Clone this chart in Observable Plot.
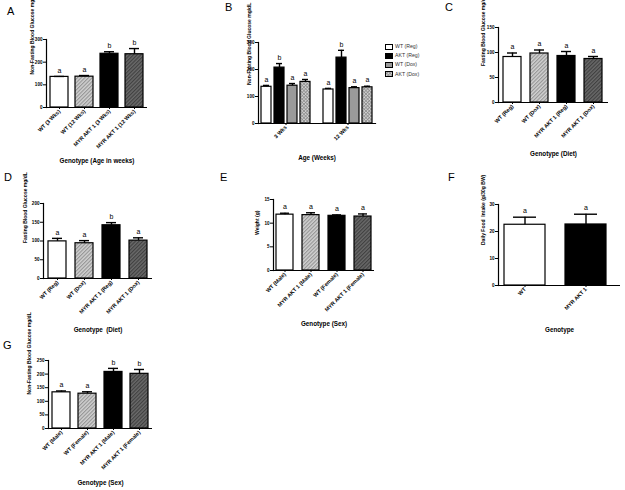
<!DOCTYPE html>
<html><head><meta charset="utf-8">
<script src="https://cdn.jsdelivr.net/npm/d3@7"></script>
<script src="https://cdn.jsdelivr.net/npm/@observablehq/plot@0.6"></script>
<style>
body{margin:0;background:#fff;}
#root{position:relative;width:625px;height:490px;overflow:hidden;font-family:"Liberation Sans",Arial,sans-serif;background:#fff;}
.letter{position:absolute;font-size:11px;line-height:11px;color:#000;}
.legend{position:absolute;font-size:5.2px;line-height:9.2px;color:#333;}
.legend div{display:flex;align-items:center;height:9.2px;}
.legend svg{margin-right:2px;}
</style></head><body>
<svg width="0" height="0" style="position:absolute">
<defs>
<pattern id="hLight" patternUnits="userSpaceOnUse" width="2.6" height="2.6" patternTransform="rotate(45)">
<rect width="2.6" height="2.6" fill="#d2d2d2"/><line x1="0.6" y1="0" x2="0.6" y2="2.6" stroke="#8c8c8c" stroke-width="1"/></pattern>
<pattern id="hDark" patternUnits="userSpaceOnUse" width="2.6" height="2.6" patternTransform="rotate(45)">
<rect width="2.6" height="2.6" fill="#6a6a6a"/><line x1="0.6" y1="0" x2="0.6" y2="2.6" stroke="#3a3a3a" stroke-width="1"/></pattern>
<pattern id="hCross" patternUnits="userSpaceOnUse" width="2.4" height="2.4" patternTransform="rotate(45)">
<rect width="2.4" height="2.4" fill="#d8d8d8"/><line x1="0.5" y1="0" x2="0.5" y2="2.4" stroke="#8a8a8a" stroke-width="0.8"/><line x1="0" y1="0.5" x2="2.4" y2="0.5" stroke="#8a8a8a" stroke-width="0.8"/></pattern>
</defs></svg>
<div id="root"></div>
<script>
// ---------- data ----------
const aCats = ["WT (3 Wks)", "WT (12 Wks)", "MYR AKT 1 (3 Wks)", "MYR AKT 1 (12 Wks)"];
const aMeans = [135, 136, 237, 235];
const aErrs = [2, 5, 9, 25];
const aLetters = ["a", "a", "b", "b"];

const bAges = ["3 Wks", "12 Wks"];
const bGroups = ["WT (Reg)", "AKT (Reg)", "WT (Dox)", "AKT (Dox)"];
const b3Means = [136, 207, 140, 154];
const b3Errs = [5, 15, 8, 9];
const b3Letters = ["a", "b", "a", "a"];
const b12Means = [126, 244, 131, 134];
const b12Errs = [4, 27, 5, 4];
const b12Letters = ["a", "b", "a", "a"];

const cCats = ["WT (Reg)", "WT (Dox)", "MYR AKT 1 (Reg)", "MYR AKT 1 (Dox)"];
const cMeans = [91, 98, 93, 87];
const cErrs = [8, 7, 9, 5];
const cLetters = ["a", "a", "a", "a"];

const dCats = ["WT (Reg)", "WT (Dox)", "MYR AKT 1 (Reg)", "MYR AKT 1 (Dox)"];
const dMeans = [99, 94, 142, 101];
const dErrs = [8, 7, 7, 7.5];
const dLetters = ["a", "a", "b", "a"];

const eCats = ["WT (Male)", "MYR AKT 1 (Male)", "WT (Female)", "MYR AKT 1 (Female)"];
const eMeans = [11.8, 11.7, 11.55, 11.4];
const eErrs = [0.3, 0.5, 0.2, 0.55];
const eLetters = ["a", "a", "a", "a"];

const fCats = ["WT", "MYR AKT 1"];
const fMeans = [22.5, 22.6];
const fErrs = [2.8, 3.8];
const fLetters = ["a", "a"];

const gCats = ["WT (Male)", "WT (Female)", "MYR AKT 1 (Male)", "MYR AKT 1 (Female)"];
const gMeans = [133, 128, 208, 201];
const gErrs = [5, 7, 13, 16];
const gLetters = ["a", "a", "b", "b"];

const yTitles = {
  A: "Non-Fasting Blood Glucose mg/dL", B: "Non-Fasting Blood Glucose mg/dL",
  C: "Fasting Blood Glucose mg/dL", D: "Fasting Blood Glucose mg/dL",
  E: "Weight (g)", F: "Daily Food  Intake (g/30g BW)", G: "Non-Fasting Blood Glucose mg/dL"
};
const xTitles = {
  A: "Genotype (Age in weeks)", B: "Age (Weeks)", C: "Genotype (Diet)", D: "Genotype  (Diet)",
  E: "Genotype (Sex)", F: "Genotype", G: "Genotype (Sex)"
};

// ---------- styles ----------
const W = "white", L = "url(#hLight)", K = "black", Dk = "url(#hDark)", Gr = "#9a9a9a", X = "url(#hCross)";
const root = document.getElementById("root");
const FONT = "Liberation Sans, Arial, sans-serif";
const XTICKFS = 5.4, YTICKFS = 4.6, YLABFS = 5, XLABFS = 6.3;

function place(el, left, top) {
  el.style.position = "absolute";
  el.style.left = left + "px";
  el.style.top = top + "px";
  root.appendChild(el);
}

function barPanel(cfg) {
  const rows = cfg.cats.map((c, i) => ({cat: c, mean: cfg.means[i], hi: cfg.means[i] + cfg.errs[i], letter: cfg.letters[i], fill: cfg.fills[i]}));
  const [fl, fr, ft, fb] = cfg.frame;
  const chart = Plot.plot({
    width: cfg.w, height: cfg.h,
    marginLeft: fl - cfg.left, marginRight: cfg.left + cfg.w - fr,
    marginTop: ft - cfg.top, marginBottom: cfg.top + cfg.h - fb,
    style: {background: "transparent", overflow: "visible", fontFamily: FONT},
    x: {domain: cfg.cats, paddingInner: cfg.pi, paddingOuter: cfg.po, align: cfg.align ?? 0.5},
    y: {domain: cfg.yDomain},
    color: {type: "identity"},
    marks: [
      Plot.barY(rows, {x: "cat", y: "mean", fill: "fill", stroke: "black", strokeWidth: 1.2}),
      Plot.ruleX(rows, {x: "cat", y1: "mean", y2: "hi", strokeWidth: 1.4}),
      Plot.tickY(rows, {x: "cat", y: "hi", insetLeft: cfg.cap, insetRight: cfg.cap, strokeWidth: 1.4}),
      Plot.text(rows, {x: "cat", y: "hi", text: "letter", dy: -6, fontSize: 7}),
      Plot.ruleY([0], {strokeWidth: 1.2}),
      Plot.frame({anchor: "left", strokeWidth: 1.2}),
      Plot.axisY({ticks: cfg.yTicks, tickSize: 3, tickPadding: 1, fontSize: YTICKFS, fontWeight: "bold", label: null}),
      Plot.axisX({tickRotate: -45, tickSize: 2, tickPadding: 1, fontSize: XTICKFS, fontWeight: "bold", label: null}),
      Plot.text([cfg.ylabel], {text: d => d, frameAnchor: "left", dx: cfg.ylDx, dy: cfg.ylDy ?? 0, rotate: -90, fontSize: YLABFS, fontWeight: "bold"}),
      Plot.text([cfg.xlabel], {text: d => d, frameAnchor: "bottom", dy: cfg.xlDy, fontSize: XLABFS, fontWeight: "bold"})
    ]
  });
  place(chart, cfg.left, cfg.top);
}

// A
barPanel({left: 0, top: 0, w: 200, h: 175, frame: [46, 147, 39, 107],
  cats: aCats, means: aMeans, errs: aErrs, letters: aLetters, fills: [W, L, K, Dk],
  yDomain: [0, 300], yTicks: [0, 100, 200, 300], pi: 0.3, po: 0.12, cap: 4,
  ylabel: yTitles.A, xlabel: xTitles.A, ylDx: -14, ylDy: 1, xlDy: 55});

// C
barPanel({left: 420, top: 0, w: 205, h: 175, frame: [498, 608, 27, 102],
  cats: cCats, means: cMeans, errs: cErrs, letters: cLetters, fills: [W, L, K, Dk],
  yDomain: [0, 150], yTicks: [0, 50, 100, 150], pi: 0.33, po: 0.2, cap: 4,
  ylabel: yTitles.C, xlabel: xTitles.C, ylDx: -15, ylDy: 1, xlDy: 53});

// D
barPanel({left: 0, top: 170, w: 200, h: 170, frame: [43, 152, 203, 278],
  cats: dCats, means: dMeans, errs: dErrs, letters: dLetters, fills: [W, L, K, Dk],
  yDomain: [0, 200], yTicks: [0, 50, 100, 150, 200], pi: 0.32, po: 0.15, cap: 4,
  ylabel: yTitles.D, xlabel: xTitles.D, ylDx: -18, ylDy: 2, xlDy: 53});

// E
barPanel({left: 200, top: 170, w: 220, h: 165, frame: [273, 374, 199, 270],
  cats: eCats, means: eMeans, errs: eErrs, letters: eLetters, fills: [W, L, K, Dk],
  yDomain: [0, 15], yTicks: [0, 5, 10, 15], pi: 0.33, po: 0.06, cap: 4,
  ylabel: yTitles.E, xlabel: xTitles.E, ylDx: -16, xlDy: 55});

// F
barPanel({left: 420, top: 170, w: 205, h: 170, frame: [498, 620, 204, 285],
  cats: fCats, means: fMeans, errs: fErrs, letters: fLetters, fills: [W, K],
  yDomain: [0, 30], yTicks: [0, 10, 20, 30], pi: 0.33, po: 0.15, align: 0.3, cap: 9,
  ylabel: yTitles.F, xlabel: xTitles.F, ylDx: -15, xlDy: 46});

// G
barPanel({left: 0, top: 330, w: 200, h: 160, frame: [48, 152, 360, 428],
  cats: gCats, means: gMeans, errs: gErrs, letters: gLetters, fills: [W, L, K, Dk],
  yDomain: [0, 250], yTicks: [0, 50, 100, 150, 200, 250], pi: 0.3, po: 0.08, cap: 4,
  ylabel: yTitles.G, xlabel: xTitles.G, ylDx: -19, xlDy: 56});

// B (grouped)
{
  const bFills = [W, K, Gr, X];
  const rows = [];
  bGroups.forEach((g, i) => rows.push({age: bAges[0], group: g, mean: b3Means[i], hi: b3Means[i] + b3Errs[i], letter: b3Letters[i], fill: bFills[i]}));
  bGroups.forEach((g, i) => rows.push({age: bAges[1], group: g, mean: b12Means[i], hi: b12Means[i] + b12Errs[i], letter: b12Letters[i], fill: bFills[i]}));
  const left = 200, top = 0, w = 220, h = 175;
  const [fl, fr, ft, fb] = [244, 377, 42, 123];
  try {
    const chart = Plot.plot({
      width: w, height: h,
      marginLeft: fl - left, marginRight: left + w - fr, marginTop: ft - top, marginBottom: top + h - fb,
      style: {background: "transparent", overflow: "visible", fontFamily: FONT},
      fx: {domain: bAges, paddingInner: 0.12, paddingOuter: 0.13, align: 0.85},
      x: {domain: bGroups, paddingInner: 0.23, paddingOuter: 0.12, axis: null},
      y: {domain: [0, 300]},
      color: {type: "identity"},
      marks: [
        Plot.barY(rows, {fx: "age", x: "group", y: "mean", fill: "fill", stroke: "black", strokeWidth: 1.2}),
        Plot.ruleX(rows, {fx: "age", x: "group", y1: "mean", y2: "hi", strokeWidth: 1.4}),
        Plot.tickY(rows, {fx: "age", x: "group", y: "hi", insetLeft: 2, insetRight: 2, strokeWidth: 1.4}),
        Plot.text(rows, {fx: "age", x: "group", y: "hi", text: "letter", dy: -6, fontSize: 7}),
        Plot.frame({anchor: "bottom", strokeWidth: 1.2, facet: "super"}),
        Plot.frame({anchor: "left", strokeWidth: 1.2, facet: "super"}),
        Plot.axisY({ticks: [0, 100, 200, 300], tickSize: 3, tickPadding: 1, fontSize: YTICKFS, fontWeight: "bold", label: null}),
        Plot.axisFx({anchor: "bottom", tickRotate: -45, tickSize: 2, tickPadding: 1, fontSize: XTICKFS, fontWeight: "bold", label: null}),
        Plot.text([yTitles.B], {text: d => d, frameAnchor: "left", dx: -9, dy: 2, rotate: -90, fontSize: YLABFS, fontWeight: "bold", facet: "super"}),
        Plot.text([xTitles.B], {text: d => d, frameAnchor: "bottom", dy: 36, fontSize: XLABFS, fontWeight: "bold", facet: "super"})
      ]
    });
    place(chart, left, top);
  } catch (e) { console.error(e); }

  const leg = document.createElement("div");
  leg.className = "legend";
  bGroups.forEach((g, i) => {
    const row = document.createElement("div");
    row.innerHTML = `<svg width="8" height="6"><rect x="0.5" y="0.5" width="7" height="5" fill="${bFills[i]}" stroke="black" stroke-width="1"/></svg><span>${g}</span>`;
    leg.appendChild(row);
  });
  place(leg, 385, 42);
}

// panel letters
const letterPos = [["A", 7, 6], ["B", 225, 2], ["C", 445, 2], ["D", 4, 172], ["E", 220, 172], ["F", 448, 172], ["G", 3, 340]];
letterPos.forEach(([t, x, y]) => {
  const d = document.createElement("div");
  d.className = "letter";
  d.textContent = t;
  place(d, x, y);
});
</script>
</body></html>
